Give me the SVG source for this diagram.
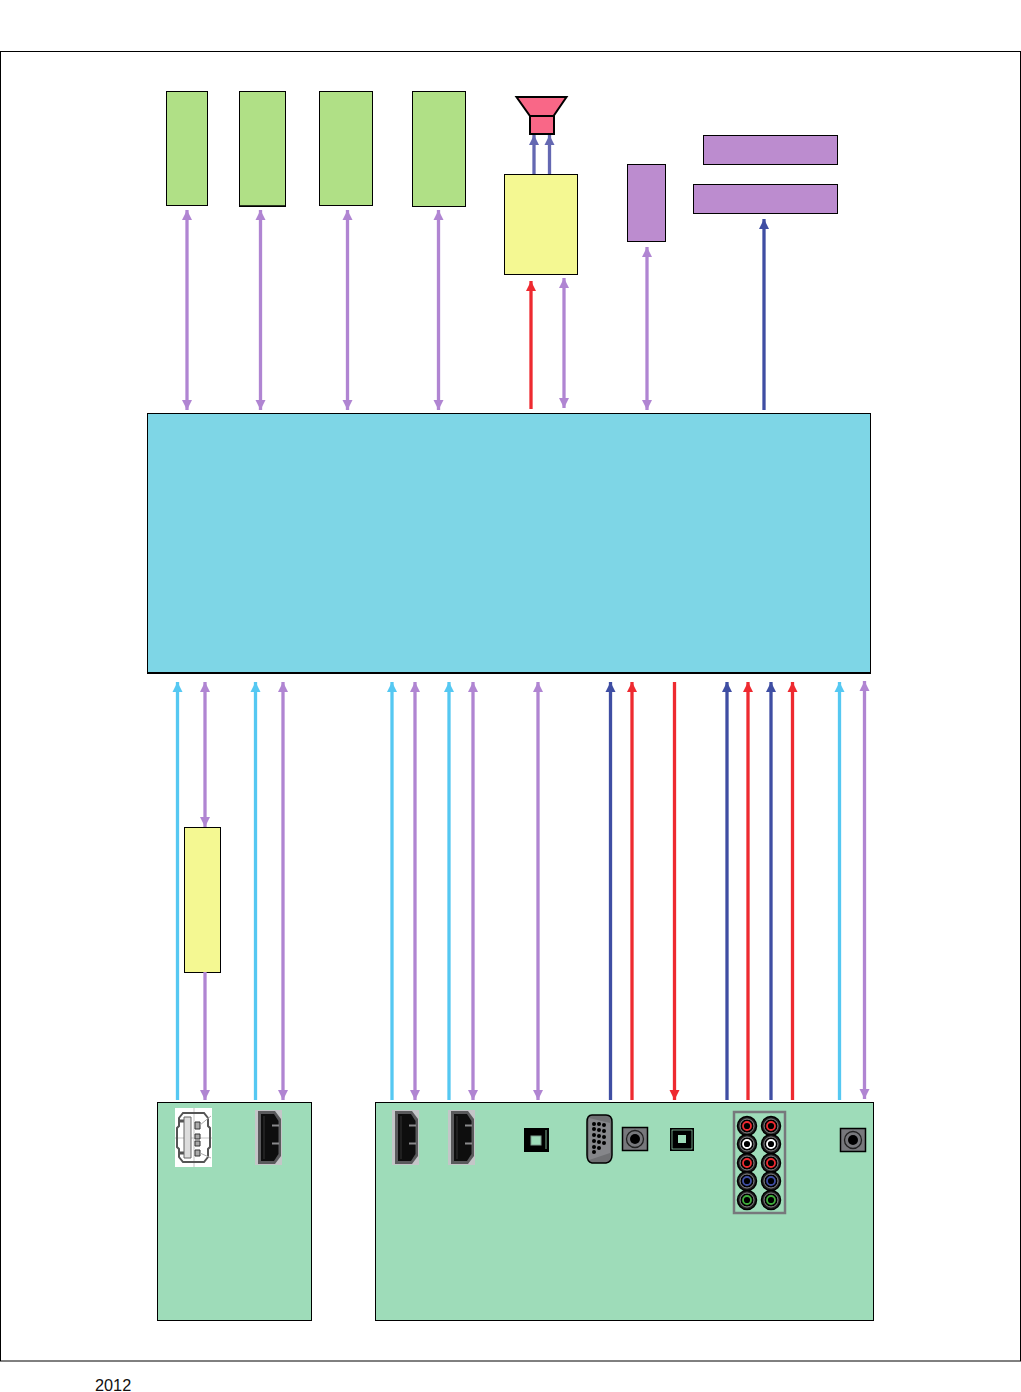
<svg xmlns="http://www.w3.org/2000/svg" width="1021" height="1392" viewBox="0 0 1021 1392">
<style>
.b{stroke:#000;stroke-width:1}
.g{fill:#b0e086}.y{fill:#f4f892}.p{fill:#bc8ccf}.t{fill:#9edcb9}
.c{fill:none;stroke-width:3.300}
.pu{stroke:#b085d2}.lb{stroke:#55c8f2}.db{stroke:#3f4ea3}.rd{stroke:#ee2a30}.sb{stroke:#6468b2}
</style>
<defs>
<marker id="mp" markerUnits="userSpaceOnUse" markerWidth="11" markerHeight="11" refX="10" refY="5.500" orient="auto-start-reverse"><path d="M0 0.500L10 5.500L0 10.500Z" fill="#b085d2"/></marker>
<marker id="ml" markerUnits="userSpaceOnUse" markerWidth="11" markerHeight="11" refX="10" refY="5.500" orient="auto-start-reverse"><path d="M0 0.500L10 5.500L0 10.500Z" fill="#55c8f2"/></marker>
<marker id="md" markerUnits="userSpaceOnUse" markerWidth="11" markerHeight="11" refX="10" refY="5.500" orient="auto-start-reverse"><path d="M0 0.500L10 5.500L0 10.500Z" fill="#3f4ea3"/></marker>
<marker id="mr" markerUnits="userSpaceOnUse" markerWidth="11" markerHeight="11" refX="10" refY="5.500" orient="auto-start-reverse"><path d="M0 0.500L10 5.500L0 10.500Z" fill="#ee2a30"/></marker>
<marker id="ms" markerUnits="userSpaceOnUse" markerWidth="11" markerHeight="11" refX="10" refY="5.500" orient="auto-start-reverse"><path d="M0 0.500L10 5.500L0 10.500Z" fill="#6468b2"/></marker>
<g id="hdmi">
<rect x="0" y="0" width="27" height="55" fill="#c4c6c8"/>
<path d="M3 1H20L26 9V46L20 54H3Z" fill="#5a5a5c"/>
<path d="M6 4H19L23.500 11V44L19 51H6Z" fill="#0e0e0e"/>
<path d="M17 15.500H24M17 33.500H24" stroke="#8a8a8c" stroke-width="2"/>
<path d="M9 6V49" stroke="#333" stroke-width="1"/>
</g>
<g id="jack">
<rect x="0" y="0" width="25" height="23" fill="#77787c" stroke="#000" stroke-width="1.500"/>
<circle cx="12.500" cy="11.500" r="8.500" fill="none" stroke="#222" stroke-width="1.300"/>
<circle cx="12.500" cy="11.500" r="5" fill="#000"/>
</g>
<g id="opt">
<rect x="0" y="0" width="25" height="24" fill="#000"/>
<rect x="7" y="8" width="10" height="9" fill="#9edcb9" stroke="#7f9f90" stroke-width="1"/>
<path d="M22 2V21" stroke="#9edcb9" stroke-width="0.800"/>
</g>
</defs>
<rect width="1021" height="1392" fill="#fff"/>
<rect id="frame" x="0.500" y="51.500" width="1020" height="1309.500" fill="none" stroke="#000"/>

<g id="node-g1"><rect class="g b" x="166.500" y="91.500" width="41" height="114"/></g>
<g id="node-g2"><rect class="g b" x="239.500" y="91.500" width="46" height="114.500"/><path d="M239 206.200H286" stroke="#000" stroke-width="1.500"/></g>
<g id="node-g3"><rect class="g b" x="319.500" y="91.500" width="53" height="114"/></g>
<g id="node-g4"><rect class="g b" x="412.500" y="91.500" width="53" height="115"/></g>
<g id="node-speaker">
<path d="M516.500 97H566.500L553.500 116H530Z" fill="#f96787" stroke="#000" stroke-width="2"/>
<rect x="530" y="116" width="24" height="18" fill="#f96787" stroke="#000" stroke-width="2"/>
</g>
<g id="node-amp"><rect class="y b" x="504.500" y="174.500" width="73" height="100"/></g>
<g id="node-p1"><rect class="p b" x="627.500" y="164.500" width="38" height="77"/></g>
<g id="node-p2"><rect class="p b" x="703.500" y="135.500" width="134" height="29"/></g>
<g id="node-p3"><rect class="p b" x="693.500" y="184.500" width="144" height="29"/></g>
<g id="node-main"><rect x="147.500" y="413.500" width="723" height="259.500" fill="#7ed6e6" stroke="#000"/><path d="M147 673H871" stroke="#000" stroke-width="2"/></g>
<g id="node-y2"><rect class="y b" x="184.500" y="827.500" width="36" height="145"/></g>

<g id="node-panel-left">
<rect class="t b" x="157.500" y="1102.500" width="154" height="218"/>
<g id="usb">
<rect x="175" y="1108" width="37" height="59" fill="#fff"/>
<path d="M194 1108V1167M175 1138H212" stroke="#c4c4c4" stroke-width="1" fill="none"/>
<path d="M183 1113H204L208 1118V1126L210 1128V1147L208 1149V1157L204 1162H183L179 1157V1149L177 1147V1128L179 1126V1118Z" fill="none" stroke="#555" stroke-width="2"/>
<path d="M179 1121H184M179 1153H184" stroke="#555" stroke-width="3"/>
<path d="M184 1117H191V1158H184Z" fill="#ddd" stroke="#666"/>
<path d="M195 1122H200V1129H195ZM195 1134H200V1139H195ZM195 1141H200V1146H195ZM195 1150H200V1156H195Z" fill="#aaa" stroke="#333"/>
<path d="M200 1125L211 1116M200 1153L211 1158" stroke="#aaa" stroke-width="1"/>
</g>
<use href="#hdmi" x="255" y="1110"/>
</g>

<g id="node-panel-right">
<rect class="t b" x="375.500" y="1102.500" width="498" height="218"/>
<use href="#hdmi" x="392" y="1110"/>
<use href="#hdmi" x="448" y="1110"/>
<g id="opt1"><use href="#opt" x="524" y="1128"/></g>
<g id="vga">
<path d="M592 1115H606Q612 1115 612 1122V1155Q612 1162 606 1163H592Q587 1162 587 1155V1122Q587 1115 592 1115Z" fill="#6f7073" stroke="#000" stroke-width="1.500"/>
<path d="M589 1118L610 1123V1153L589 1160Z" fill="#85868a"/>
<g fill="#000"><circle cx="594" cy="1124" r="2"/><circle cx="599" cy="1124" r="2"/><circle cx="604" cy="1125" r="2"/><circle cx="594" cy="1129" r="2"/><circle cx="599" cy="1130" r="2"/><circle cx="604" cy="1131" r="2"/><circle cx="594" cy="1135" r="2"/><circle cx="599" cy="1136" r="2"/><circle cx="604" cy="1137" r="2"/><circle cx="594" cy="1141" r="2"/><circle cx="599" cy="1142" r="2"/><circle cx="604" cy="1143" r="2"/><circle cx="594" cy="1147" r="2"/><circle cx="599" cy="1148" r="2"/><circle cx="594" cy="1152" r="2"/></g>
</g>
<use href="#jack" x="622.500" y="1127.500"/>
<g id="opt2"><rect x="670" y="1128" width="24" height="23" fill="#000"/><rect x="672" y="1130" width="20" height="19" fill="none" stroke="#9edcb9" stroke-width="0.700"/><rect x="678" y="1135" width="8" height="8" fill="#9edcb9"/></g>
<g id="rca-block">
<rect x="734" y="1112" width="51" height="101" fill="none" stroke="#77787c" stroke-width="2.500"/>
<g fill="#222" stroke="#000" stroke-width="1.500">
<circle cx="747" cy="1126" r="9.500"/><circle cx="771" cy="1126" r="9.500"/>
<circle cx="747" cy="1144" r="9.500"/><circle cx="771" cy="1144" r="9.500"/>
<circle cx="747" cy="1163" r="9.500"/><circle cx="771" cy="1163" r="9.500"/>
<circle cx="747" cy="1181" r="9.500"/><circle cx="771" cy="1181" r="9.500"/>
<circle cx="747" cy="1200" r="9.500"/><circle cx="771" cy="1200" r="9.500"/>
</g>
<g fill="#000" stroke="#8a8a8c" stroke-width="1">
<circle cx="747" cy="1126" r="7"/><circle cx="771" cy="1126" r="7"/>
<circle cx="747" cy="1144" r="7"/><circle cx="771" cy="1144" r="7"/>
<circle cx="747" cy="1163" r="7"/><circle cx="771" cy="1163" r="7"/>
<circle cx="747" cy="1181" r="7"/><circle cx="771" cy="1181" r="7"/>
<circle cx="747" cy="1200" r="7"/><circle cx="771" cy="1200" r="7"/>
</g>
<g fill="none" stroke-width="1.800">
<g stroke="#ee2a30"><circle cx="747" cy="1126" r="4"/><circle cx="771" cy="1126" r="4"/><circle cx="747" cy="1163" r="4"/><circle cx="771" cy="1163" r="4"/></g>
<g stroke="#fff"><circle cx="747" cy="1144" r="4"/><circle cx="771" cy="1144" r="4"/></g>
<g stroke="#3f4ea3"><circle cx="747" cy="1181" r="4"/><circle cx="771" cy="1181" r="4"/></g>
<g stroke="#3fae3a"><circle cx="747" cy="1200" r="4"/><circle cx="771" cy="1200" r="4"/></g>
</g>
</g>
<use href="#jack" x="840.500" y="1128.500"/>
</g>

<g id="connectors" class="c">
<g class="c pu" marker-start="url(#mp)" marker-end="url(#mp)">
<path d="M187 210V410"/><path d="M260.500 210V410"/><path d="M347.500 210V410"/><path d="M438.500 210V410"/><path d="M564 278V408"/><path d="M647 247V410"/>
<path d="M283 682V1100"/><path d="M415 682V1100"/><path d="M473 682V1100"/><path d="M538 682V1100"/><path d="M864.500 681V1099"/>
</g>
<path class="c pu" d="M205 682V827" marker-start="url(#mp)" marker-end="url(#mp)"/>
<path class="c pu" d="M205 972V1100" marker-end="url(#mp)"/>
<g class="c lb" marker-end="url(#ml)">
<path d="M177.500 1100V682"/><path d="M255.500 1100V682"/><path d="M392 1100V682"/><path d="M449 1100V682"/><path d="M839.500 1100V682"/>
</g>
<g class="c db" marker-end="url(#md)">
<path d="M764 410V219"/><path d="M610.500 1100V682"/><path d="M727 1100V682"/><path d="M771 1100V682"/>
</g>
<g class="c rd" marker-end="url(#mr)">
<path d="M531 409V281"/><path d="M632 1100V682"/><path d="M748 1100V682"/><path d="M792.500 1100V682"/><path d="M674.500 682V1100"/>
</g>
<g class="c sb" marker-end="url(#ms)">
<path d="M534 174V135"/><path d="M549.500 174V135"/>
</g>
</g>
<text x="95" y="1391" font-family="'Liberation Sans',Arial,sans-serif" font-size="16.300" fill="#111">2012</text>
</svg>
